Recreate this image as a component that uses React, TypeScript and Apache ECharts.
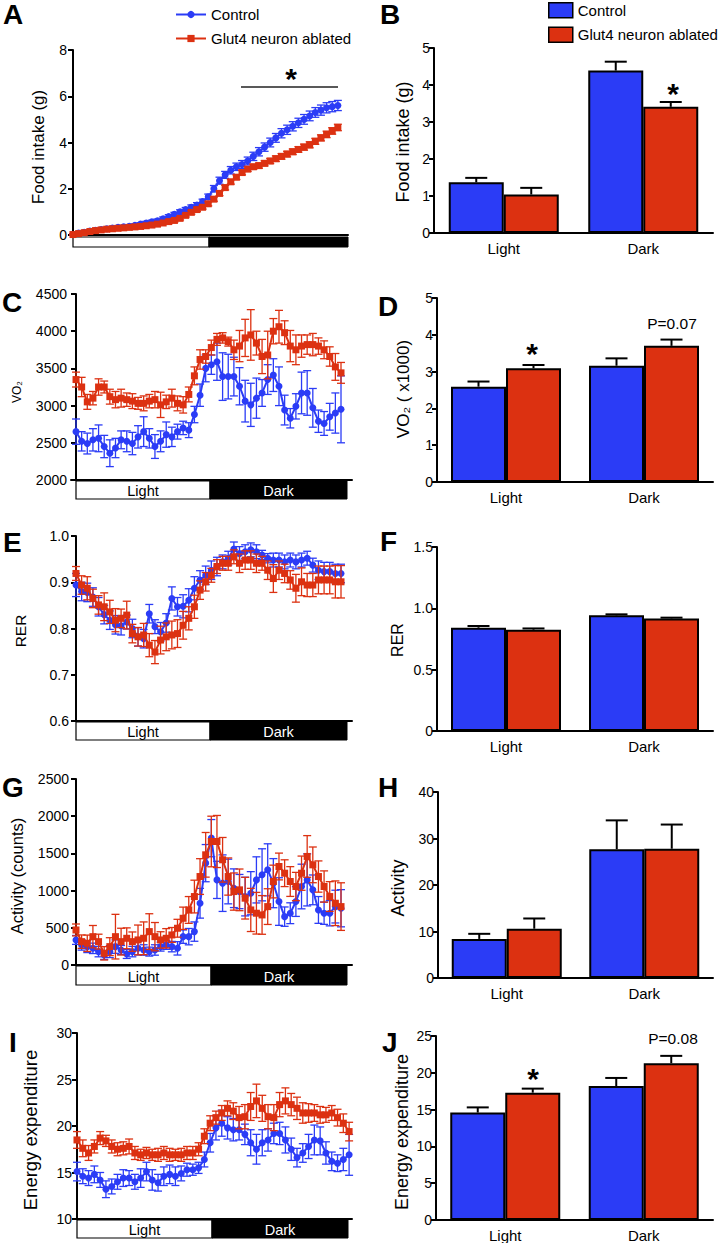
import React, { useEffect, useRef } from 'react';
import * as echarts from 'echarts';

const BLUE = '#2b3cf6';
const RED = '#dc3111';
const FONT = 'Liberation Sans, Arial, Helvetica, sans-serif';

const groupNames = ['Control', 'Glut4 neuron ablated'];
const phaseLabels = ['Light', 'Dark'];

// ---- Panel A: cumulative food intake (g) ----
const foodCtrl = [0.02,0.08,0.12,0.17,0.2,0.24,0.27,0.3,0.33,0.36,0.38,0.42,0.47,0.52,0.57,0.62,0.7,0.8,0.9,1.0,1.1,1.2,1.3,1.45,1.65,2.0,2.35,2.6,2.8,2.95,3.05,3.2,3.4,3.6,3.8,4.0,4.2,4.4,4.55,4.7,4.85,5.0,5.15,5.3,5.4,5.5,5.55,5.6];
const foodCtrlErr = [0.02,0.03,0.03,0.04,0.04,0.04,0.05,0.05,0.05,0.05,0.06,0.06,0.06,0.07,0.07,0.07,0.08,0.08,0.08,0.09,0.09,0.1,0.1,0.1,0.12,0.14,0.15,0.15,0.16,0.16,0.17,0.17,0.18,0.18,0.18,0.19,0.19,0.2,0.2,0.2,0.2,0.21,0.21,0.21,0.22,0.22,0.22,0.22];
const foodGlut = [0.02,0.06,0.1,0.15,0.19,0.22,0.25,0.27,0.29,0.31,0.33,0.35,0.37,0.4,0.43,0.47,0.52,0.58,0.63,0.72,0.85,0.98,1.1,1.2,1.35,1.55,1.8,2.05,2.3,2.5,2.7,2.85,2.95,3.0,3.1,3.2,3.3,3.4,3.5,3.6,3.7,3.8,3.9,4.05,4.2,4.35,4.5,4.65];
const foodGlutErr = [0.02,0.02,0.03,0.03,0.03,0.04,0.04,0.04,0.04,0.05,0.05,0.05,0.05,0.05,0.06,0.06,0.06,0.06,0.07,0.07,0.07,0.08,0.08,0.08,0.09,0.09,0.1,0.1,0.1,0.1,0.1,0.1,0.11,0.11,0.11,0.11,0.12,0.12,0.12,0.12,0.12,0.13,0.13,0.13,0.13,0.14,0.14,0.14];

// ---- Panel C: VO2 ----
const vo2Ctrl = [2650,2520,2490,2540,2560,2450,2360,2430,2540,2520,2490,2580,2650,2560,2450,2520,2610,2580,2650,2700,2670,2880,3140,3500,3550,3590,3390,3390,3390,3260,3060,3010,3100,3170,3350,3410,3260,2940,2830,2990,3170,3170,2970,2790,2760,2850,2900,2950];
const vo2CtrlErr = [170,130,140,150,180,150,180,130,120,140,150,150,200,130,160,140,170,130,100,90,100,110,150,180,130,250,320,300,260,250,280,290,270,180,200,220,260,200,130,170,280,300,260,150,160,180,270,450];
const vo2Glut = [3350,3250,3050,3100,3250,3250,3120,3080,3100,3080,3060,3030,3030,3060,3080,3010,3050,3100,3030,3010,3150,3400,3620,3660,3780,3890,3910,3860,3750,3800,3910,3950,3840,3660,3680,4000,4060,3980,3800,3750,3800,3820,3820,3800,3750,3660,3520,3440];
const vo2GlutErr = [100,130,100,90,110,80,100,110,120,90,100,80,100,90,110,170,90,120,100,110,100,120,130,90,100,80,70,60,130,210,250,340,160,230,320,170,220,160,210,200,150,130,150,110,120,130,180,140];

// ---- Panel E: RER ----
const rerCtrl = [0.894,0.88,0.878,0.868,0.847,0.83,0.818,0.808,0.806,0.814,0.8,0.782,0.778,0.832,0.804,0.793,0.812,0.865,0.847,0.848,0.861,0.887,0.905,0.915,0.926,0.934,0.944,0.952,0.972,0.962,0.966,0.97,0.966,0.959,0.952,0.948,0.948,0.944,0.948,0.944,0.948,0.952,0.937,0.926,0.923,0.923,0.919,0.919];
const rerCtrlErr = [0.025,0.02,0.02,0.02,0.02,0.02,0.02,0.02,0.02,0.015,0.02,0.02,0.02,0.02,0.015,0.02,0.02,0.025,0.02,0.025,0.025,0.025,0.02,0.02,0.02,0.02,0.015,0.015,0.015,0.015,0.015,0.015,0.015,0.01,0.01,0.015,0.015,0.015,0.015,0.015,0.015,0.015,0.015,0.02,0.02,0.02,0.02,0.02];
const rerGlut = [0.919,0.894,0.887,0.865,0.851,0.847,0.836,0.818,0.822,0.829,0.789,0.782,0.786,0.764,0.749,0.775,0.782,0.786,0.789,0.807,0.822,0.847,0.883,0.901,0.915,0.934,0.941,0.941,0.955,0.941,0.948,0.948,0.941,0.941,0.926,0.908,0.926,0.919,0.905,0.887,0.901,0.894,0.894,0.905,0.905,0.905,0.901,0.901];
const rerGlutErr = [0.015,0.02,0.025,0.02,0.02,0.03,0.025,0.025,0.02,0.03,0.02,0.02,0.025,0.025,0.025,0.03,0.03,0.03,0.03,0.03,0.025,0.025,0.02,0.02,0.015,0.015,0.015,0.015,0.015,0.02,0.02,0.02,0.02,0.015,0.02,0.03,0.02,0.02,0.02,0.03,0.03,0.025,0.025,0.03,0.03,0.03,0.035,0.035];

// ---- Panel G: activity (counts) ----
const actCtrl = [337,270,247,224,180,135,180,247,202,148,180,224,202,180,202,247,270,247,224,381,381,449,830,1369,1705,1144,1100,1122,1032,987,920,965,1144,1212,1279,1100,853,650,696,853,1055,1144,1010,740,696,696,785,763];
const actCtrlErr = [60,70,80,70,70,60,80,90,60,60,70,90,70,60,70,60,60,70,90,90,110,130,200,250,250,250,380,300,260,230,260,290,310,350,350,330,320,130,140,200,300,350,200,180,150,170,220,250];
const actGlut = [471,314,292,381,314,157,247,381,314,359,314,337,359,449,381,337,359,404,494,628,740,920,1189,1481,1660,1660,1414,1189,987,1010,898,740,696,673,785,1122,1324,1234,1122,1055,1234,1459,1346,1189,1055,920,830,785];
const actGlutErr = [80,90,110,150,100,90,120,300,180,140,130,200,220,240,190,110,130,100,120,150,180,220,240,300,340,350,300,250,250,280,280,290,280,260,240,220,180,180,200,190,230,280,240,210,210,200,300,320];

// ---- Panel I: energy expenditure ----
const eeCtrl = [15.1,14.6,14.4,14.8,14.2,13.2,13.5,14.0,14.4,14.4,14.0,14.4,15.1,14.2,13.9,14.6,14.8,14.6,14.9,15.3,15.3,15.5,16.4,18.2,19.8,20.3,19.8,19.6,19.6,19.1,18.2,17.5,18.2,18.5,19.2,19.2,18.5,17.5,16.6,17.1,17.8,18.5,18.4,17.1,16.2,16.0,16.4,16.9];
const eeCtrlErr = [1.0,0.8,0.8,0.9,0.8,0.9,0.8,0.8,0.9,0.8,0.8,1.0,1.0,1.1,0.9,1.0,1.0,1.0,0.8,0.7,0.6,0.6,0.8,1.0,1.3,1.4,1.2,1.2,1.1,1.1,1.4,1.6,1.4,1.2,1.1,1.2,1.4,1.2,1.0,1.0,1.3,1.6,1.5,1.2,1.0,0.9,1.2,2.2];
const eeGlut = [18.5,17.6,17.1,17.8,18.7,18.4,17.8,17.5,17.6,17.8,17.1,16.9,17.1,16.9,16.9,17.1,16.9,16.9,16.9,17.1,17.1,17.5,18.9,20.3,20.9,21.4,21.9,21.6,20.9,21.0,22.1,22.7,21.9,21.0,20.9,22.3,22.7,22.3,21.9,21.4,21.4,21.4,21.2,21.2,21.4,20.9,20.3,19.4];
const eeGlutErr = [0.9,0.9,0.8,0.7,0.7,0.6,0.7,0.7,0.7,0.8,0.7,0.6,0.6,0.6,0.7,0.7,0.7,0.6,0.7,0.7,0.7,0.7,0.8,0.8,0.7,0.8,0.8,0.9,1.2,1.3,1.5,1.8,1.4,1.3,1.4,1.3,1.4,1.2,1.2,1.1,1.0,0.9,0.9,0.8,0.8,0.9,1.0,1.0];

// ---- Bar panels (Light, Dark) ----
const foodBarCtrl = [1.37, 4.39];
const foodBarCtrlErr = [0.12, 0.24];
const foodBarGlut = [1.04, 3.41];
const foodBarGlutErr = [0.18, 0.13];
const vo2BarCtrl = [2.59, 3.16];
const vo2BarCtrlErr = [0.14, 0.2];
const vo2BarGlut = [3.09, 3.7];
const vo2BarGlutErr = [0.09, 0.17];
const rerBarCtrl = [0.842, 0.943];
const rerBarCtrlErr = [0.014, 0.008];
const rerBarGlut = [0.826, 0.918];
const rerBarGlutErr = [0.01, 0.006];
const actBarCtrl = [8.4, 27.7];
const actBarCtrlErr = [1.1, 6.2];
const actBarGlut = [10.6, 27.8];
const actBarGlutErr = [2.2, 5.2];
const eeBarCtrl = [14.6, 18.2];
const eeBarCtrlErr = [0.7, 1.1];
const eeBarGlut = [17.3, 21.3];
const eeBarGlutErr = [0.55, 1.0];

// ---- axis scales [min, max, interval] ----
const foodScale = [0, 8, 2];
const vo2Scale = [2000, 4500, 500];
const rerScale = [0.6, 1.0, 0.1];
const actScale = [0, 2500, 500];
const eeScale = [10, 30, 5];
const foodBarScale = [0, 5, 1];
const vo2BarScale = [0, 5, 1];
const rerBarScale = [0, 1.5, 0.5];
const actBarScale = [0, 40, 10];
const eeBarScale = [0, 25, 5];

const timePanels = [
  { grid: { left: 71, top: 50, width: 277, height: 185 }, x: [-0.35, 48.8], y: foodScale, title: { text: 'Food intake (g)', size: 17, x: 38, y: 147 }, ctrl: foodCtrl, ctrlErr: foodCtrlErr, glut: foodGlut, glutErr: foodGlutErr, strip: { y: 237, h: 10, x0: 73, xm: 209, x1: 348, text: false }, fmt: (v: number) => String(v) },
  { grid: { left: 71, top: 294, width: 281, height: 186 }, x: [-0.89, 48.95], y: vo2Scale, title: { text: 'VO₂', size: 12, x: 17, y: 392 }, ctrl: vo2Ctrl, ctrlErr: vo2CtrlErr, glut: vo2Glut, glutErr: vo2GlutErr, strip: { y: 481, h: 18, x0: 76, xm: 210, x1: 347, text: true }, fmt: (v: number) => String(v) },
  { grid: { left: 73, top: 536, width: 279, height: 185 }, x: [-0.53, 48.95], y: rerScale, title: { text: 'RER', size: 15.5, x: 20, y: 631 }, ctrl: rerCtrl, ctrlErr: rerCtrlErr, glut: rerGlut, glutErr: rerGlutErr, strip: { y: 722, h: 18, x0: 76, xm: 210, x1: 347, text: true }, fmt: (v: number) => v.toFixed(1) },
  { grid: { left: 73, top: 779, width: 279, height: 186 }, x: [-0.53, 48.95], y: actScale, title: { text: 'Activity (counts)', size: 16.5, x: 17, y: 876 }, ctrl: actCtrl, ctrlErr: actCtrlErr, glut: actGlut, glutErr: actGlutErr, strip: { y: 966, h: 19, x0: 76, xm: 211, x1: 347, text: true }, fmt: (v: number) => String(v) },
  { grid: { left: 76, top: 1033, width: 276, height: 186 }, x: [-0.17, 47.5], y: eeScale, title: { text: 'Energy expenditure', size: 18.5, x: 30, y: 1130 }, ctrl: eeCtrl, ctrlErr: eeCtrlErr, glut: eeGlut, glutErr: eeGlutErr, strip: { y: 1220, h: 18, x0: 77, xm: 212, x1: 348, text: true }, fmt: (v: number) => String(v) },
];

const barPanels = [
  { grid: { left: 434, top: 48, width: 279, height: 185 }, y: foodBarScale, title: { text: 'Food intake (g)', size: 18, x: 403, y: 142 }, ctrl: foodBarCtrl, ctrlErr: foodBarCtrlErr, glut: foodBarGlut, glutErr: foodBarGlutErr, fmt: (v: number) => String(v) },
  { grid: { left: 437, top: 298, width: 276, height: 184 }, y: vo2BarScale, title: { text: 'VO₂ ( x1000)', size: 17, x: 403, y: 389 }, ctrl: vo2BarCtrl, ctrlErr: vo2BarCtrlErr, glut: vo2BarGlut, glutErr: vo2BarGlutErr, fmt: (v: number) => String(v) },
  { grid: { left: 437, top: 547, width: 276, height: 184 }, y: rerBarScale, title: { text: 'RER', size: 16, x: 397, y: 640 }, ctrl: rerBarCtrl, ctrlErr: rerBarCtrlErr, glut: rerBarGlut, glutErr: rerBarGlutErr, fmt: (v: number) => (v === 0 ? '0' : v.toFixed(1)) },
  { grid: { left: 438, top: 792, width: 275, height: 186 }, y: actBarScale, title: { text: 'Activity', size: 18, x: 398, y: 888 }, ctrl: actBarCtrl, ctrlErr: actBarCtrlErr, glut: actBarGlut, glutErr: actBarGlutErr, fmt: (v: number) => String(v) },
  { grid: { left: 436, top: 1036, width: 277, height: 185 }, y: eeBarScale, title: { text: 'Energy expenditure', size: 18, x: 402, y: 1132 }, ctrl: eeBarCtrl, ctrlErr: eeBarCtrlErr, glut: eeBarGlut, glutErr: eeBarGlutErr, fmt: (v: number) => String(v) },
];

const panelLetters = [
  { t: 'A', x: 3, y: 0 }, { t: 'B', x: 380, y: 0 },
  { t: 'C', x: 2, y: 288 }, { t: 'D', x: 378, y: 292 },
  { t: 'E', x: 3, y: 528 }, { t: 'F', x: 380, y: 527 },
  { t: 'G', x: 2, y: 773 }, { t: 'H', x: 378, y: 773 },
  { t: 'I', x: 9, y: 1028 }, { t: 'J', x: 382, y: 1028 },
];

const axisLineStyle = { color: '#000', width: 2 };

function timeErr(color: string) {
  return (params: any, api: any) => {
    const x = api.value(0), y = api.value(1), e = api.value(2);
    const hi = api.coord([x, y + e]);
    const lo = api.coord([x, y - e]);
    const cap = 4;
    const st = { stroke: color, lineWidth: 1.3 };
    return {
      type: 'group',
      children: [
        { type: 'line', shape: { x1: hi[0], y1: hi[1], x2: lo[0], y2: lo[1] }, style: st },
        { type: 'line', shape: { x1: hi[0] - cap, y1: hi[1], x2: hi[0] + cap, y2: hi[1] }, style: st },
        { type: 'line', shape: { x1: lo[0] - cap, y1: lo[1], x2: lo[0] + cap, y2: lo[1] }, style: st },
      ],
    };
  };
}

function barErr(offset: number) {
  return (params: any, api: any) => {
    const c = api.coord([api.value(0), api.value(1)]);
    const t = api.coord([api.value(0), api.value(1) + api.value(2)]);
    const x = c[0] + offset;
    const st = { stroke: '#000', lineWidth: 2 };
    return {
      type: 'group',
      children: [
        { type: 'line', shape: { x1: x, y1: c[1], x2: x, y2: t[1] }, style: st },
        { type: 'line', shape: { x1: x - 11, y1: t[1], x2: x + 11, y2: t[1] }, style: st },
      ],
    };
  };
}

function txt(x: number, y: number, text: string, size: number, opts: any = {}) {
  return {
    type: 'text', x, y, rotation: opts.rotation || 0,
    style: {
      text, fill: opts.fill || '#000', fontSize: size, fontFamily: FONT,
      fontWeight: opts.bold ? 'bold' : 'normal',
      align: opts.align || 'center', verticalAlign: opts.va || 'middle',
    },
  };
}

function axisTitle(t: { text: string; size: number; x: number; y: number }) {
  return txt(t.x, t.y, t.text, t.size, { rotation: Math.PI / 2 });
}

function yAxisFor(k: number, scale: number[], fmt: (v: number) => string) {
  return {
    type: 'value', gridIndex: k, min: scale[0], max: scale[1], interval: scale[2],
    axisLine: { show: true, lineStyle: axisLineStyle },
    axisTick: { show: true, length: 5, lineStyle: { color: '#000', width: 2 } },
    axisLabel: { fontSize: 14, color: '#000', fontFamily: FONT, margin: 4, formatter: fmt },
    splitLine: { show: false },
  };
}

function buildOption() {
  const grids: any[] = [];
  const xAxes: any[] = [];
  const yAxes: any[] = [];
  const series: any[] = [];
  const graphics: any[] = [];

  timePanels.forEach((p, k) => {
    grids.push({ ...p.grid, containLabel: false });
    xAxes.push({
      type: 'value', gridIndex: k, min: p.x[0], max: p.x[1],
      axisLine: { show: true, onZero: false, lineStyle: axisLineStyle },
      axisTick: { show: false }, axisLabel: { show: false }, splitLine: { show: false },
    });
    yAxes.push(yAxisFor(k, p.y, p.fmt));
    series.push({
      type: 'custom', name: 'ctrl-err-' + k, xAxisIndex: k, yAxisIndex: k, silent: true, z: 2,
      renderItem: timeErr(BLUE), encode: { x: 0, y: 1 },
      data: p.ctrl.map((v, i) => [i, v, p.ctrlErr[i]]),
    });
    series.push({
      type: 'line', name: groupNames[0], xAxisIndex: k, yAxisIndex: k, z: 3,
      symbol: 'circle', symbolSize: 7, showSymbol: true,
      lineStyle: { color: BLUE, width: 2 }, itemStyle: { color: BLUE },
      emphasis: { disabled: true },
      data: p.ctrl.map((v, i) => [i, v]),
    });
    series.push({
      type: 'custom', name: 'glut-err-' + k, xAxisIndex: k, yAxisIndex: k, silent: true, z: 4,
      renderItem: timeErr(RED), encode: { x: 0, y: 1 },
      data: p.glut.map((v, i) => [i, v, p.glutErr[i]]),
    });
    series.push({
      type: 'line', name: groupNames[1], xAxisIndex: k, yAxisIndex: k, z: 5,
      symbol: 'rect', symbolSize: 7, showSymbol: true,
      lineStyle: { color: RED, width: 2 }, itemStyle: { color: RED },
      emphasis: { disabled: true },
      data: p.glut.map((v, i) => [i, v]),
    });
    const s = p.strip;
    graphics.push({ type: 'rect', shape: { x: s.x0, y: s.y, width: s.xm - s.x0, height: s.h }, style: { fill: '#fff', stroke: '#000', lineWidth: 1.2 } });
    graphics.push({ type: 'rect', shape: { x: s.xm, y: s.y, width: s.x1 - s.xm, height: s.h }, style: { fill: '#000', stroke: '#000', lineWidth: 1 } });
    if (s.text) {
      graphics.push(txt((s.x0 + s.xm) / 2, s.y + s.h / 2 + 1, phaseLabels[0], 14.5));
      graphics.push(txt((s.xm + s.x1) / 2, s.y + s.h / 2 + 1, phaseLabels[1], 14.5, { fill: '#fff' }));
    }
    graphics.push(axisTitle(p.title));
  });

  barPanels.forEach((p, j) => {
    const k = timePanels.length + j;
    grids.push({ ...p.grid, containLabel: false });
    xAxes.push({
      type: 'category', gridIndex: k, data: phaseLabels,
      axisLine: { show: true, lineStyle: axisLineStyle },
      axisTick: { show: false },
      axisLabel: { fontSize: 15, color: '#000', fontFamily: FONT, margin: 8 },
      splitLine: { show: false },
    });
    yAxes.push(yAxisFor(k, p.y, p.fmt));
    series.push({
      type: 'bar', name: groupNames[0], xAxisIndex: k, yAxisIndex: k, barWidth: 55, barGap: '0%', z: 2,
      itemStyle: { color: BLUE, borderColor: '#000', borderWidth: 2 },
      emphasis: { disabled: true },
      data: p.ctrl,
    });
    series.push({
      type: 'bar', name: groupNames[1], xAxisIndex: k, yAxisIndex: k, barWidth: 55, barGap: '0%', z: 2,
      itemStyle: { color: RED, borderColor: '#000', borderWidth: 2 },
      emphasis: { disabled: true },
      data: p.glut,
    });
    series.push({
      type: 'custom', name: 'bar-ctrl-err-' + j, xAxisIndex: k, yAxisIndex: k, silent: true, z: 3,
      renderItem: barErr(-27.5), encode: { x: 0, y: 1 },
      data: p.ctrl.map((v, i) => [i, v, p.ctrlErr[i]]),
    });
    series.push({
      type: 'custom', name: 'bar-glut-err-' + j, xAxisIndex: k, yAxisIndex: k, silent: true, z: 3,
      renderItem: barErr(27.5), encode: { x: 0, y: 1 },
      data: p.glut.map((v, i) => [i, v, p.glutErr[i]]),
    });
    graphics.push(axisTitle(p.title));
  });

  panelLetters.forEach((l) => {
    graphics.push(txt(l.x, l.y, l.t, 28, { bold: true, align: 'left', va: 'top' }));
  });

  // significance annotations
  graphics.push({ type: 'line', shape: { x1: 241, y1: 87, x2: 338, y2: 87 }, style: { stroke: '#222', lineWidth: 1.5 } });
  const star = (x: number, y: number) => txt(x, y, '*', 30, { bold: true });
  graphics.push(star(291, 78));
  graphics.push(star(673, 93));
  graphics.push(star(532, 353));
  graphics.push(star(533, 1078));
  graphics.push(txt(672, 323, 'P=0.07', 15.5));
  graphics.push(txt(673, 1038, 'P=0.08', 15.5));

  return {
    animation: false,
    backgroundColor: '#fff',
    textStyle: { fontFamily: FONT },
    legend: [
      {
        left: 170, top: 2, orient: 'vertical', itemWidth: 30, itemHeight: 9, itemGap: 9,
        selectedMode: false, data: groupNames,
        textStyle: { fontSize: 15, color: '#000', fontFamily: FONT },
      },
      {
        left: 543, top: -3, orient: 'vertical', itemWidth: 24, itemHeight: 15, itemGap: 8,
        selectedMode: false,
        data: groupNames.map((n) => ({ name: n, icon: 'rect' })),
        itemStyle: { borderColor: '#000', borderWidth: 1.5 },
        textStyle: { fontSize: 15, color: '#000', fontFamily: FONT },
      },
    ],
    grid: grids,
    xAxis: xAxes,
    yAxis: yAxes,
    series,
    graphic: graphics,
  };
}

export default function App() {
  const ref = useRef<HTMLDivElement>(null);
  useEffect(() => {
    const chart = echarts.init(ref.current!, null, { renderer: 'svg', width: 718, height: 1243 });
    chart.setOption(buildOption() as any);
    return () => chart.dispose();
  }, []);
  return (
    <div
      ref={ref}
      style={{ position: 'absolute', left: 0, top: 0, width: 718, height: 1243, background: '#fff' }}
    />
  );
}
